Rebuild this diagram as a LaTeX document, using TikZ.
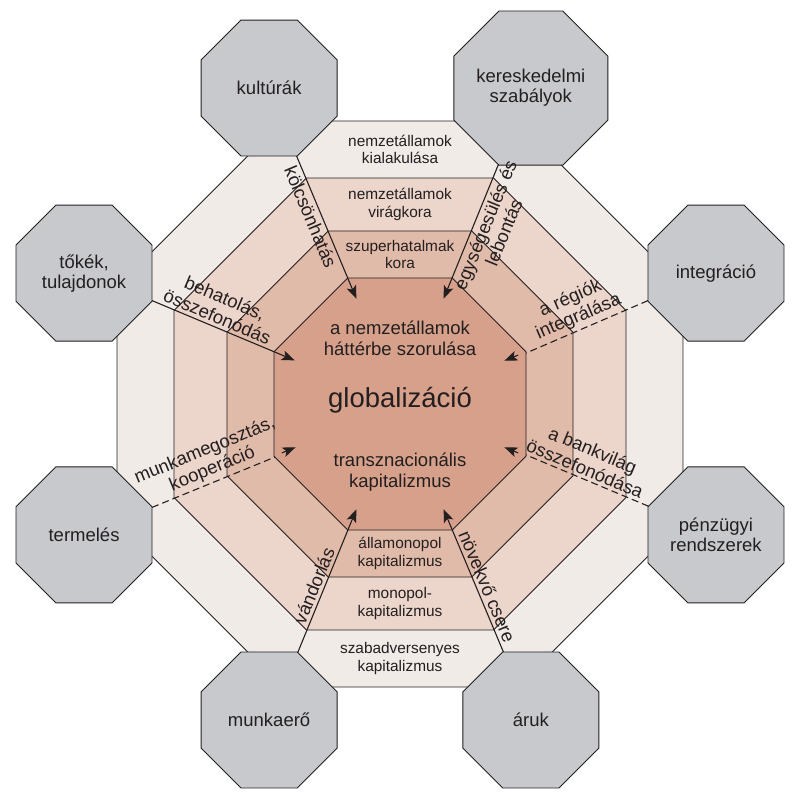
\documentclass[tikz,border=0pt]{standalone}
\usepackage{fontspec}
\setmainfont{Liberation Sans}
\usetikzlibrary{shapes.geometric,arrows.meta}
\definecolor{ink}{HTML}{231F20}
\definecolor{coreC}{HTML}{D6A08A}
\definecolor{ringA}{HTML}{E1BBA9}
\definecolor{ringB}{HTML}{ECD5CB}
\definecolor{ringC}{HTML}{F1EBE8}
\definecolor{greyC}{HTML}{C8C9CC}
\begin{document}
\begin{tikzpicture}[x=1pt,y=1pt,color=ink,
  oct/.style={regular polygon,regular polygon sides=8,draw=ink,line width=0.9pt,inner sep=0pt,outer sep=0pt},
  factor/.style={oct,fill=greyC,minimum size=147.2pt,align=center,font=\fontsize{18.5}{20}\selectfont},
  band/.style={align=center,font=\fontsize{15.4}{17.5}\selectfont},
  flow/.style={line width=1.1pt,draw=ink},
  tip/.style={-{Stealth[length=13pt,width=10pt,inset=3pt]}},
  dashline/.style={dash pattern=on 7pt off 4pt},
  lbl/.style={sloped,align=center,inner sep=3pt,font=\fontsize{18.5}{20}\selectfont}]
\useasboundingbox (-400,-408) rectangle (397,404);

% nested octagons
\node[oct,fill=ringC,minimum size=612.6pt] (ring3) at (0,0) {};
\node[oct,fill=ringB,minimum size=489.2pt] (ring2) at (0,0) {};
\node[oct,fill=ringA,minimum size=374.6pt] (ring1) at (0,0) {};
\node[oct,fill=coreC,minimum size=272.8pt] (core) at (0,0) {};

% bands
\node[band] (top3) at (0,254.5) {nemzetállamok\\kialakulása};
\node[band] (top2) at (0,199.5) {nemzetállamok\\virágkora};
\node[band] (top1) at (0,149.5) {szuperhatalmak\\kora};
\node[band] (bot1) at (0,-149.5) {államonopol\\kapitalizmus};
\node[band] (bot2) at (0,-199.5) {monopol-\\kapitalizmus};
\node[band] (bot3) at (0,-254.5) {szabadversenyes\\kapitalizmus};

% centre
\node[align=center,font=\fontsize{18.5}{20.7}\selectfont] (hatter) at (0,66) {a nemzetállamok\\háttérbe szorulása};
\node[font=\fontsize{27.5}{30}\selectfont] (glob) at (0,4) {globalizáció};
\node[align=center,font=\fontsize{18.5}{20.7}\selectfont] (transz) at (0,-68) {transznacionális\\kapitalizmus};

% outer factors
\node[factor] (kult) at (112.5:342) {kultúrák};
\node[factor] (keresk) at (67.5:342) {kereskedelmi\\szabályok};
\node[factor] (integr) at (22.5:342) {integráció};
\node[factor] (penz) at (-22.5:342) {pénzügyi\\rendszerek};
\node[factor] (aruk) at (-67.5:342) {áruk};
\node[factor] (munka) at (-112.5:342) {munkaerő};
\node[factor] (term) at (-157.5:342) {termelés};
\node[factor] (toke) at (157.5:342) {tőkék,\\tulajdonok};

\coordinate (t1) at (112.5:114);
\coordinate (t2) at (67.5:114);
\coordinate (s3) at (22.5:128);
\coordinate (t3) at (22.5:113);
\coordinate (s4) at (-22.5:128);
\coordinate (t4) at (-22.5:113);
\coordinate (t5) at (-67.5:114);
\coordinate (t6) at (-112.5:114);
\coordinate (s7) at (-157.5:128);
\coordinate (t7) at (-157.5:113);
\coordinate (t8) at (157.5:114);

\draw[flow,tip] (kult.292.5) -- (t1) node[lbl,pos=0.4,below] {kölcsönhatás};
\draw[flow,tip] (keresk.247.5) -- (t2) node[lbl,pos=0.42,below] {egységesülés és\\lebontás};
\draw[flow,dashline] (integr.202.5) -- (core.22.5) node[lbl,pos=0.53,above] {a régiók\\integrálása};
\draw[flow,tip] (s3) -- (t3);
\draw[flow,dashline] (penz.157.5) -- (core.-22.5) node[lbl,pos=0.55,above] {a bankvilág\\összefonódása};
\draw[flow,tip] (s4) -- (t4);
\draw[flow,tip] (aruk.112.5) -- (t5) node[lbl,pos=0.43,above] {növekvő csere};
\draw[flow,tip] (munka.67.5) -- (t6) node[lbl,pos=0.44,above] {vándorlás};
\draw[flow,dashline] (term.22.5) -- (core.-157.5) node[lbl,pos=0.53,above] {munkamegosztás,\\kooperáció};
\draw[flow,tip] (s7) -- (t7);
\draw[flow,tip] (toke.-22.5) -- (t8) node[lbl,pos=0.43,above] {behatolás,\\összefonódás};

\end{tikzpicture}
\end{document}
